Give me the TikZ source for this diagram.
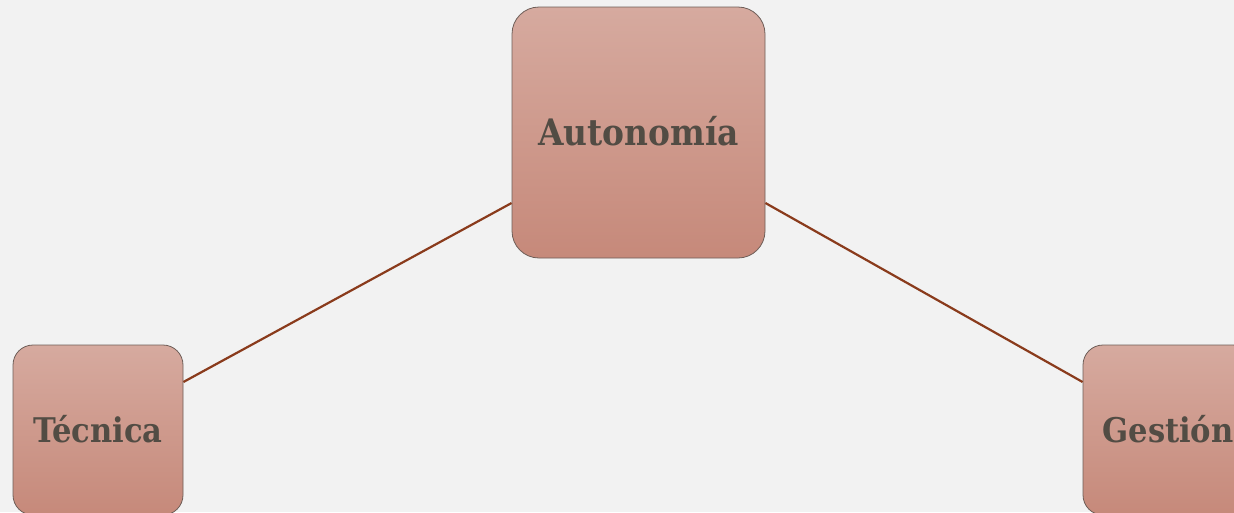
\documentclass[tikz,border=0pt]{standalone}
\usepackage{fontspec}
\setmainfont{DejaVu Serif Condensed}
\definecolor{bg}{HTML}{F2F2F2}
\definecolor{boxtop}{HTML}{D6AA9F}
\definecolor{boxbot}{HTML}{C6897A}
\definecolor{boxline}{HTML}{6E5E58}
\definecolor{txt}{HTML}{524C44}
\definecolor{conn}{HTML}{8A3B1C}
\begin{document}
\begin{tikzpicture}[x=1pt,y=-1pt]
\fill[bg] (0,0) rectangle (1234,512);
\useasboundingbox (0,0) rectangle (1234,512);
\tikzset{
  box/.style={draw=boxline, line width=0.8pt, top color=boxtop, bottom color=boxbot,
    rounded corners=27pt, font=\bfseries\fontsize{36.5}{40}\selectfont, text=txt, inner sep=0pt,
    text height=26pt, text depth=0pt},
  smallbox/.style={box, minimum width=170pt, minimum height=170pt, rounded corners=20pt,
    font=\bfseries\fontsize{34}{38}\selectfont, text height=24pt},
  conline/.style={draw=conn, line width=2.2pt}
}
\node[box, minimum width=253pt, minimum height=251pt] (A) at (638.5,132.5) {Autonomía};
\node[smallbox] (T) at (98,430) {Técnica};
\node[smallbox] (G) at (1168,430) {Gestión};
\draw[conline] ([yshift=-70.5pt]A.west) -- ([yshift=48pt]T.east);
\draw[conline] ([yshift=-70.5pt]A.east) -- ([yshift=48pt]G.west);
\end{tikzpicture}
\end{document}
